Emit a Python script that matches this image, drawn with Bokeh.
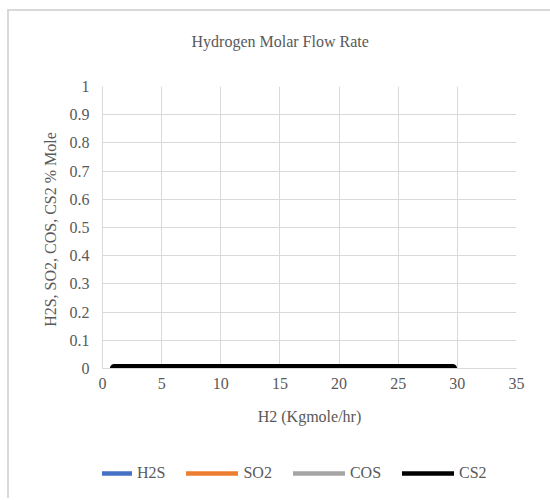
from bokeh.plotting import figure
from bokeh.layouts import column
from bokeh.models import Legend, LegendItem, FixedTicker, Title
from bokeh.embed import file_html
from bokeh.resources import INLINE

# Data
h2_flow = [1, 5, 10, 15, 20, 25, 29.6]
h2s = [0, 0, 0, 0, 0, 0, 0]
so2 = [0, 0, 0, 0, 0, 0, 0]
cos = [0, 0, 0, 0, 0, 0, 0]
cs2 = [0, 0, 0, 0, 0, 0, 0]
series_names = ["H2S", "SO2", "COS", "CS2"]
series_colors = ["#4472C4", "#ED7D31", "#A5A5A5", "#000000"]
x_ticks = [0, 5, 10, 15, 20, 25, 30, 35]
y_ticks = [0, 0.1, 0.2, 0.3, 0.4, 0.5, 0.6, 0.7, 0.8, 0.9, 1]
y_tick_labels = ["0", "0.1", "0.2", "0.3", "0.4", "0.5", "0.6", "0.7", "0.8", "0.9", "1"]
series_values = [h2s, so2, cos, cs2]

FONT = "Liberation Serif"
TXT = "#595959"
GRID = "#d9d9d9"

# ---------------- main chart ----------------
p = figure(width=541, height=429, x_range=(0, 35), y_range=(0, 1),
           output_backend="svg", toolbar_location=None,
           min_border_left=93, min_border_right=34,
           min_border_top=75, min_border_bottom=72, title=None)
p.outline_line_color = None
p.background_fill_color = "white"
p.border_fill_color = "white"

# spacer between frame and title, then the title itself
p.add_layout(Title(text=" ", text_font_size="18px", text_color="white"), "above")
p.add_layout(Title(text="Hydrogen Molar Flow Rate", align="left", offset=89,
                   text_font=FONT, text_font_size="16px", text_font_style="normal",
                   text_color=TXT), "above")

for ax in (p.xaxis[0], p.yaxis[0]):
    ax.major_tick_out = 0
    ax.major_tick_in = 0
    ax.minor_tick_out = 0
    ax.minor_tick_in = 0
    ax.axis_line_color = GRID
    ax.major_label_text_font = FONT
    ax.major_label_text_font_size = "16px"
    ax.major_label_text_color = TXT
    ax.axis_label_text_font = FONT
    ax.axis_label_text_font_size = "16px"
    ax.axis_label_text_font_style = "normal"
    ax.axis_label_text_color = TXT

p.xaxis.ticker = FixedTicker(ticks=x_ticks)
p.yaxis.ticker = FixedTicker(ticks=y_ticks)
p.yaxis.major_label_overrides = {t: l for t, l in zip(y_ticks, y_tick_labels)}
p.xaxis.axis_label = "H2 (Kgmole/hr)"
p.yaxis.axis_label = "H2S,  SO2, COS, CS2 % Mole"
p.xaxis.major_label_standoff = 9
p.xaxis.axis_label_standoff = 16
p.yaxis.major_label_standoff = 13
p.yaxis.axis_label_standoff = 8

p.xgrid.ticker = FixedTicker(ticks=x_ticks)
p.ygrid.ticker = FixedTicker(ticks=y_ticks)
p.xgrid.grid_line_color = GRID
p.ygrid.grid_line_color = GRID

for name, col, ys in zip(series_names, series_colors, series_values):
    p.line(h2_flow, ys, line_color=col, line_width=4.5, line_cap="round")
# thick CS2 line as shown on the chart
p.line(h2_flow, cs2, line_color="#000000", line_width=9, line_cap="round")

# ---------------- legend strip ----------------
lg = figure(width=541, height=58, x_range=(0, 35), y_range=(10, 20),
            output_backend="svg", toolbar_location=None,
            x_axis_type=None, y_axis_type=None, title=None,
            min_border_left=0, min_border_right=0,
            min_border_top=0, min_border_bottom=0)
lg.outline_line_color = None
lg.xgrid.visible = False
lg.ygrid.visible = False
lg.background_fill_color = "white"
lg.border_fill_color = "white"

items = []
for name, col, ys in zip(series_names, series_colors, series_values):
    r = lg.line(h2_flow, ys, line_color=col, line_width=4.5, line_cap="round")
    items.append(LegendItem(label=name, renderers=[r]))

legend = Legend(items=items, orientation="horizontal", location=(-22, 16),
                glyph_width=52, glyph_height=18, label_height=18,
                label_standoff=5, spacing=21, padding=0, margin=0,
                border_line_color=None, background_fill_alpha=0,
                label_text_font=FONT, label_text_font_size="16px",
                label_text_color=TXT)
lg.add_layout(legend, "center")

layout = column(p, lg, spacing=0)
layout.margin = (9, 0, 0, 7)
layout.styles = {"border-top": "2px solid #d9d9d9", "border-left": "2px solid #d9d9d9"}

open("out.html", "w").write(file_html(layout, INLINE))
